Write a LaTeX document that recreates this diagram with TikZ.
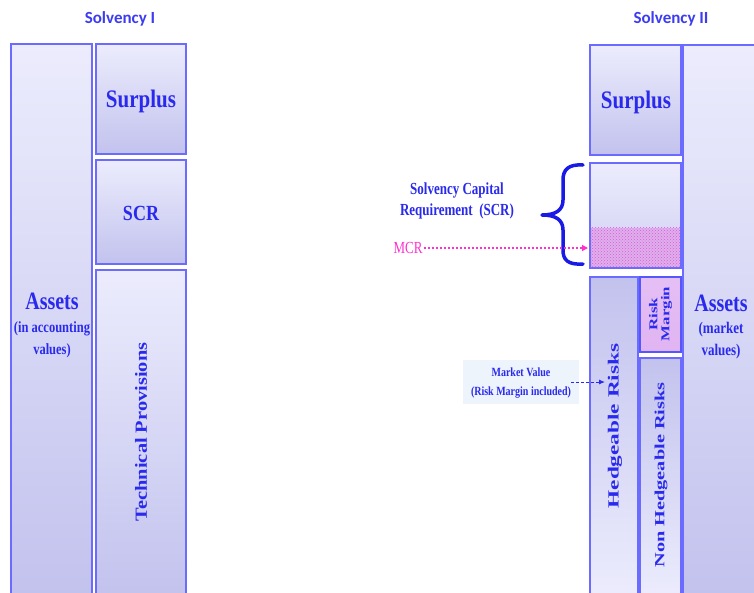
\documentclass[tikz,border=0pt]{standalone}
\usepackage{fontspec}
\setmainfont{Liberation Serif}
\newfontfamily\titlefont{Carlito}
\usetikzlibrary{patterns,arrows.meta}

\definecolor{edge}{HTML}{6B6BFF}
\definecolor{ink}{HTML}{2A2AEE}
\definecolor{titleblue}{HTML}{3C3CF0}
\definecolor{boxtop}{HTML}{ECECFD}
\definecolor{boxbot}{HTML}{C2C2EE}
\definecolor{rmfill}{HTML}{E0B4F2}
\definecolor{mcrfill}{HTML}{DDB0EA}
\definecolor{mcrdots}{HTML}{E055E0}
\definecolor{mcrpink}{HTML}{FF2FD0}
\definecolor{mvbg}{HTML}{EEF4FC}
\definecolor{bracecol}{HTML}{1A1AE6}

% vertical / horizontal stretching of label text
\newcommand{\vstretch}[2]{\scalebox{1}[#1]{#2}}
\newcommand{\hstretch}[2]{\scalebox{#1}[1]{#2}}

\begin{document}
\begin{tikzpicture}[x=1pt,y=-1pt,
  panel/.style={draw=edge, line width=1.6pt, top color=boxtop, bottom color=boxbot,
    anchor=north west, inner sep=0pt, outer sep=0pt},
  panelrev/.style={panel, top color=boxbot, bottom color=boxtop},
  lbl/.style={text=ink, font=\bfseries, inner sep=0pt},
  heading/.style={text=titleblue, font=\titlefont\bfseries\fontsize{17}{20}\selectfont, inner sep=0pt},
  bracestroke/.style={draw=bracecol, line width=3.5pt, line cap=round, line join=round},
]
\useasboundingbox (0,0) rectangle (754,592);
\fill[white] (0,0) rectangle (754,592);
\clip (0,0) rectangle (754,592);

% ---------- Solvency I ----------
\node[heading] (titleI) at (120,19) {Solvency I};

\node[panel, minimum width=81pt, minimum height=552pt] (assetsL) at (11,44) {};
\node[panel, minimum width=90pt, minimum height=110pt] (surL) at (96,44) {};
\node[panel, minimum width=90pt, minimum height=104pt] (scrL) at (96,160) {};
\node[panel, minimum width=90pt, minimum height=326pt] (tpL) at (96,270) {};

\node[lbl] (surLt) at (141,101) {\vstretch{1.2}{\fontsize{21}{25}\selectfont Surplus}};
\node[lbl] (scrLt) at (141,213) {\vstretch{1.2}{\fontsize{18}{22}\selectfont SCR}};
\node[lbl] (assetsLt) at (52,301) {\vstretch{1.25}{\fontsize{20}{24}\selectfont Assets}};
\node[lbl] (assetsLa) at (52,329) {\vstretch{1.25}{\fontsize{12.5}{15}\selectfont (in accounting}};
\node[lbl] (assetsLb) at (52,351) {\vstretch{1.25}{\fontsize{12.5}{15}\selectfont values)}};
\node[lbl, rotate=90] (tpLt) at (141,432) {\hstretch{1.2}{\fontsize{17}{20}\selectfont Technical Provisions}};

% ---------- Solvency II ----------
\node[heading] (titleII) at (671,19) {Solvency II};

\node[panel, minimum width=90pt, minimum height=551pt] (assetsR) at (683,45) {};
\node[panel, minimum width=91pt, minimum height=110pt] (surR) at (590,45) {};
\node[panel, draw=none, top color=boxtop, bottom color=boxbot!70!boxtop,
      minimum width=91pt, minimum height=105pt] (scrR) at (590,163) {};
\node[anchor=south west, inner sep=0pt, minimum width=91pt, minimum height=40pt,
      preaction={fill=mcrfill}, pattern=crosshatch dots, pattern color=mcrdots] (mcrR) at (590,268) {};
\draw[edge, line width=1.6pt] (scrR.north west) rectangle (scrR.south east);
\node[panelrev, minimum width=48pt, minimum height=319pt] (hedgeR) at (590,277) {};
\node[panel, top color=rmfill!85!white, bottom color=rmfill, draw=edge!80!blue,
      minimum width=41pt, minimum height=75pt] (rmR) at (640,277) {};
\node[panelrev, minimum width=41pt, minimum height=238pt] (nonhR) at (640,358) {};

\node[lbl] (surRt) at (636,102) {\vstretch{1.2}{\fontsize{21}{25}\selectfont Surplus}};
\node[lbl] (assetsRt) at (721,303) {\vstretch{1.25}{\fontsize{20}{24}\selectfont Assets}};
\node[lbl] (assetsRa) at (721,330) {\vstretch{1.25}{\fontsize{13}{15}\selectfont (market}};
\node[lbl] (assetsRb) at (721,352) {\vstretch{1.25}{\fontsize{13}{15}\selectfont values)}};
\node[lbl, rotate=90] (hedgeRt) at (615,426) {\hstretch{1.5}{\fontsize{15.5}{18}\selectfont Hedgeable Risks}};
\node[lbl, rotate=90] (nonhRt) at (661,475) {\hstretch{1.45}{\fontsize{14}{17}\selectfont Non Hedgeable Risks}};
\node[lbl, rotate=90] (rmRt) at (661,314) {\hstretch{1.4}{\fontsize{12}{12}\selectfont
  \begin{tabular}{@{}c@{}}Risk\\Margin\end{tabular}}};

% SCR brace and its label
\node[lbl] (scrlabel) at (457,201) {\vstretch{1.3}{\fontsize{13}{16}\selectfont
  \begin{tabular}{@{}c@{}}Solvency Capital\\Requirement\ \ (SCR)\end{tabular}}};
\coordinate (braceTop) at (583,165);
\coordinate (braceTip) at (542,215);
\coordinate (braceBot) at (583,264);
\draw[bracestroke] (braceTop) .. controls (568,164) and (563,170) .. (563,180) -- (563,200)
  .. controls (563,210) and (556,215) .. (braceTip)
  .. controls (556,215) and (563,220) .. (563,230) -- (563,250)
  .. controls (563,260) and (568,265) .. (braceBot);

% MCR pointer
\node[text=mcrpink, inner sep=1pt] (mcrlabel) at (408,248) {\vstretch{1.3}{\fontsize{13}{16}\selectfont MCR}};
\coordinate (mcrend) at (588,248);
\draw[mcrpink, line width=1.3pt, dash pattern=on 2pt off 2pt,
      -{Triangle[length=6pt,width=6pt]}] (mcrlabel.east) -- (mcrend);

% Market value pointer
\node[fill=mvbg, minimum width=116pt, minimum height=44pt, inner sep=0pt, text=ink, font=\bfseries]
  (mv) at (521,382) {\vstretch{1.25}{\fontsize{10}{15}\selectfont
  \begin{tabular}{@{}c@{}}Market Value\\(Risk Margin included)\end{tabular}}};
\coordinate (mvend) at (605,382);
\draw[ink, line width=1pt, dash pattern=on 3pt off 2pt,
      -{Latex[length=6pt,width=5pt]}] ([xshift=-8pt]mv.east) -- (mvend);
\end{tikzpicture}
\end{document}
